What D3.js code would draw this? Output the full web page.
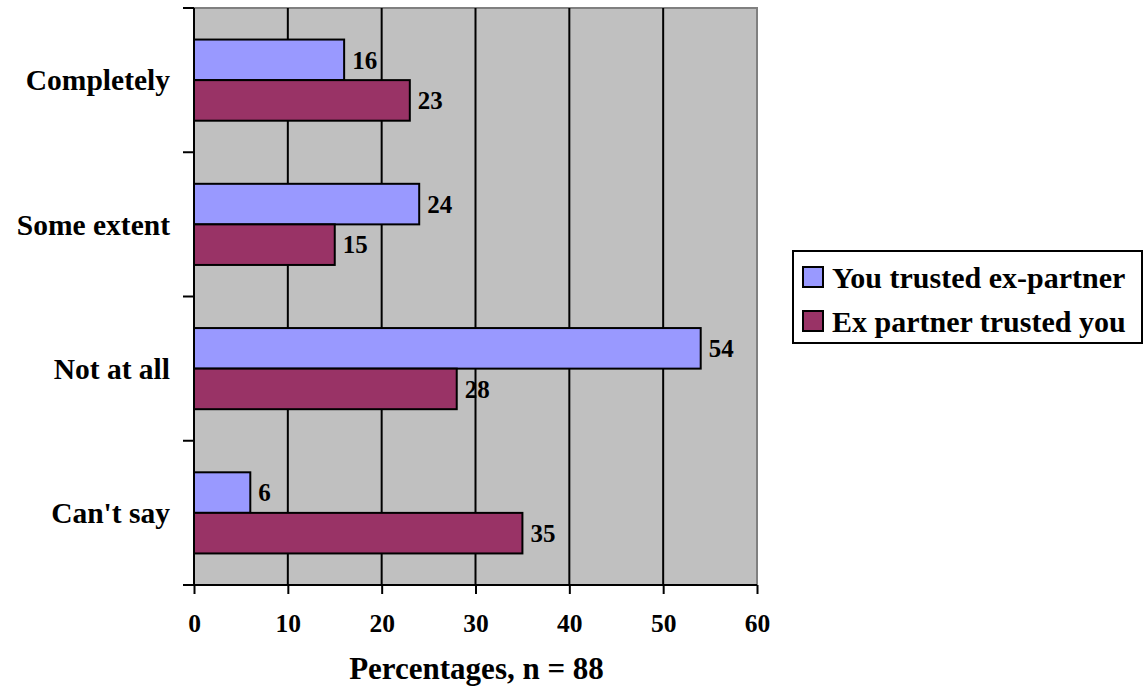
<!DOCTYPE html>
<html>
<head>
<meta charset="utf-8">
<script src="https://cdn.jsdelivr.net/npm/d3@7"></script>
<style>
  body { margin: 0; background: #fff; }
  svg text { font-family: "Liberation Serif", "Times New Roman", serif; font-weight: bold; fill: #000; }
</style>
</head>
<body>
<svg id="chart" width="1144" height="687"></svg>
<script>
const categories = ["Completely", "Some extent", "Not at all", "Can't say"];
const seriesNames = ["You trusted ex-partner", "Ex partner trusted you"];
const youTrusted = [16, 24, 54, 6];
const partnerTrusted = [23, 15, 28, 35];
const xTicks = [0, 10, 20, 30, 40, 50, 60];
const colors = ["#9999FF", "#993366"];
const xTitle = "Percentages, n = 88";

const series = [youTrusted, partnerTrusted];
const svg = d3.select("#chart");

const pLeft = 194, pRight = 757, pTop = 8, pBottom = 585;

const x = d3.scaleLinear().domain([0, 60]).range([pLeft, pRight]);
const y = d3.scaleBand().domain(categories).range([pTop, pBottom])
  .paddingInner(0.4375).paddingOuter(0.21875);
const ySub = d3.scaleBand().domain([0, 1]).range([0, y.bandwidth()]);

// plot background
svg.append("rect").attr("x", pLeft).attr("y", pTop)
  .attr("width", pRight - pLeft).attr("height", pBottom - pTop)
  .attr("fill", "#C0C0C0");
// grey top/right border
svg.append("path")
  .attr("d", `M${pLeft},${pTop}H${pRight}V${pBottom}`)
  .attr("fill", "none").attr("stroke", "#808080").attr("stroke-width", 2);

// gridlines
svg.append("g").selectAll("line").data(xTicks.filter(d => d > 0 && d < 60)).join("line")
  .attr("x1", d => x(d)).attr("x2", d => x(d))
  .attr("y1", pTop).attr("y2", pBottom)
  .attr("stroke", "#000").attr("stroke-width", 2);

// bars
const groups = svg.append("g").selectAll("g").data(categories).join("g")
  .attr("transform", d => `translate(0,${y(d)})`);
groups.selectAll("rect").data((c, i) => series.map((s, k) => ({k, v: s[i]}))).join("rect")
  .attr("x", x(0))
  .attr("y", d => ySub(d.k))
  .attr("width", d => x(d.v) - x(0))
  .attr("height", ySub.bandwidth())
  .attr("fill", d => colors[d.k])
  .attr("stroke", "#000").attr("stroke-width", 2);
groups.selectAll("text").data((c, i) => series.map((s, k) => ({k, v: s[i]}))).join("text")
  .attr("x", d => x(d.v) + 8)
  .attr("y", d => ySub(d.k) + ySub.bandwidth() / 2)
  .attr("dy", "0.35em")
  .attr("font-size", 25)
  .text(d => d.v);

// x axis
const xAxis = d3.axisBottom(x).tickValues(xTicks).tickSize(9).tickPadding(20).tickSizeOuter(0);
const gx = svg.append("g").attr("transform", `translate(0,${pBottom})`).call(xAxis);
gx.select(".domain").attr("stroke", "#000").attr("stroke-width", 2)
  .attr("d", `M${pLeft - 11},0H${pRight}`);
gx.selectAll(".tick line").attr("stroke", "#000").attr("stroke-width", 2);
gx.selectAll(".tick text").attr("font-size", 25.5).attr("font-family", "Liberation Serif").attr("font-weight", "bold");

// y axis
const yEdges = d3.range(categories.length + 1).map(i => pTop + i * y.step());
const gy = svg.append("g");
gy.append("line").attr("x1", pLeft).attr("x2", pLeft).attr("y1", pTop).attr("y2", pBottom)
  .attr("stroke", "#000").attr("stroke-width", 2);
gy.selectAll("line.t").data(yEdges).join("line").attr("class", "t")
  .attr("x1", pLeft - 11).attr("x2", pLeft).attr("y1", d => d).attr("y2", d => d)
  .attr("stroke", "#000").attr("stroke-width", 2);
gy.selectAll("text").data(categories).join("text")
  .attr("x", 170).attr("y", d => y(d) + y.bandwidth() / 2)
  .attr("dy", "0.35em").attr("text-anchor", "end")
  .attr("font-size", 29.5).text(d => d);

// x title
svg.append("text").attr("x", (pLeft + pRight) / 2 + 1).attr("y", 679)
  .attr("text-anchor", "middle").attr("font-size", 31).text(xTitle);

// legend
const lg = svg.append("g");
lg.append("rect").attr("x", 793).attr("y", 251).attr("width", 349).attr("height", 92)
  .attr("fill", "#fff").attr("stroke", "#000").attr("stroke-width", 2);
seriesNames.forEach((name, i) => {
  const cy = 277 + i * 44;
  lg.append("rect").attr("x", 803).attr("y", cy - 10).attr("width", 20).attr("height", 20)
    .attr("fill", colors[i]).attr("stroke", "#000").attr("stroke-width", 2);
  lg.append("text").attr("x", 832).attr("y", cy).attr("dy", "0.35em")
    .attr("font-size", 30).text(name);
});
</script>
</body>
</html>
